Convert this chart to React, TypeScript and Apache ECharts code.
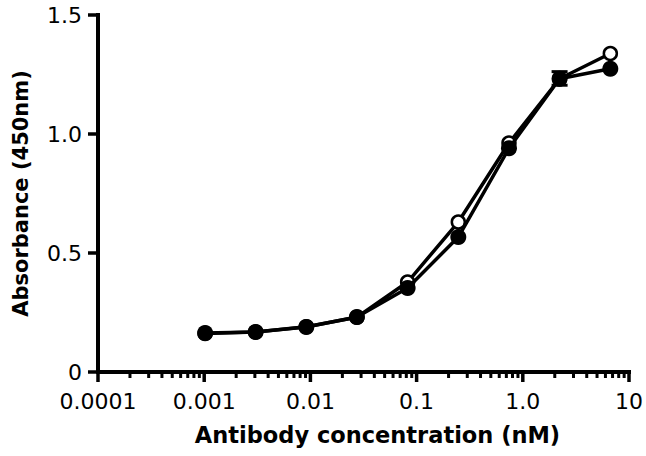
import React, { useEffect, useRef } from "react";
import * as echarts from "echarts";

const concentrations = [0.00102, 0.00305, 0.00915, 0.0274, 0.0823, 0.247, 0.741, 2.22, 6.67];
const openValues = [0.162, 0.168, 0.19, 0.23, 0.378, 0.63, 0.962, 1.232, 1.338];
const filledValues = [0.164, 0.168, 0.189, 0.231, 0.353, 0.567, 0.94, 1.232, 1.274];
// error bar: [x, low, high]
const errorBars = [[2.22, 1.205, 1.262]];
const xTickValues = [0.0001, 0.001, 0.01, 0.1, 1, 10];
const xTickLabels = ["0.0001", "0.001", "0.01", "0.1", "1.0", "10"];
const yTickValues = [0, 0.5, 1.0, 1.5];
const yTickLabels = ["0", "0.5", "1.0", "1.5"];
const minorMultipliers = [2, 3, 4, 5, 6, 7, 8, 9];
const X_MIN = 0.0001;
const X_MAX = 10;
const Y_MIN = 0;
const Y_MAX = 1.5;

const FONT = "'DejaVu Sans', sans-serif";

export default function App() {
  const ref = useRef<HTMLDivElement>(null);
  useEffect(() => {
    if (!ref.current) return;
    const chart = echarts.init(ref.current, undefined, { renderer: "svg" });
    const minorTicks: number[][] = [];
    xTickValues.slice(0, -1).forEach((d) => minorMultipliers.forEach((m) => minorTicks.push([d * m, 0])));

    const tickSeries = (data: number[][], dx: number, dy: number, lw: number) => ({
      type: "custom",
      clip: false,
      silent: true,
      data,
      renderItem: (params: any, api: any) => {
        const p = api.coord([api.value(0), api.value(1)]);
        return {
          type: "line",
          shape: { x1: p[0], y1: p[1], x2: p[0] + dx, y2: p[1] + dy },
          style: { stroke: "#000", lineWidth: lw },
        };
      },
      z: 1,
    });

    chart.setOption({
      animation: false,
      backgroundColor: "#fff",
      grid: { left: 98, right: 13, top: 15, bottom: 84 },
      xAxis: {
        type: "log",
        logBase: 10,
        min: X_MIN,
        max: X_MAX,
        name: "Antibody concentration (nM)",
        nameLocation: "middle",
        nameGap: 51,
        nameTextStyle: { fontFamily: FONT, fontSize: 22.5, fontWeight: "bold", color: "#000", padding: [0, 0, 0, 28] },
        axisLine: { show: false, onZero: false },
        axisTick: { show: false },
        axisLabel: {
          margin: 18,
          fontFamily: FONT,
          fontSize: 22,
          color: "#000",
          formatter: (v: number) => {
            const i = Math.round(Math.log10(v)) + 4;
            return xTickLabels[i] ?? "";
          },
        },
        splitLine: { show: false },
        minorTick: { show: false },
      },
      yAxis: {
        type: "value",
        min: Y_MIN,
        max: Y_MAX,
        interval: 0.5,
        name: "Absorbance (450nm)",
        nameLocation: "middle",
        nameGap: 67,
        nameTextStyle: { fontFamily: FONT, fontSize: 21, fontWeight: "bold", color: "#000" },
        axisLine: { show: false, onZero: false },
        axisTick: { show: false },
        axisLabel: {
          margin: 16,
          fontFamily: FONT,
          fontSize: 22,
          color: "#000",
          formatter: (v: number) => yTickLabels[Math.round(v / 0.5)] ?? "",
        },
        splitLine: { show: false },
      },
      series: [
        {
          // axis lines
          type: "line",
          clip: false,
          silent: true,
          symbol: "none",
          data: [
            [X_MIN, Y_MAX],
            [X_MIN, Y_MIN],
            [X_MAX, Y_MIN],
          ],
          lineStyle: { color: "#000", width: 4, cap: "square", join: "miter" },
          z: 1,
        },
        tickSeries(xTickValues.map((v) => [v, Y_MIN]), 0, 10, 3.5),
        tickSeries(yTickValues.map((v) => [X_MIN, v]), -10, 0, 3.5),
        tickSeries(minorTicks, 0, 6, 3),
        {
          type: "custom",
          clip: false,
          silent: true,
          data: errorBars,
          renderItem: (params: any, api: any) => {
            const lo = api.coord([api.value(0), api.value(1)]);
            const hi = api.coord([api.value(0), api.value(2)]);
            const w = 8;
            return {
              type: "group",
              children: [
                { type: "line", shape: { x1: lo[0], y1: lo[1], x2: hi[0], y2: hi[1] }, style: { stroke: "#000", lineWidth: 3 } },
                { type: "line", shape: { x1: hi[0] - w, y1: hi[1], x2: hi[0] + w, y2: hi[1] }, style: { stroke: "#000", lineWidth: 3 } },
                { type: "line", shape: { x1: lo[0] - w, y1: lo[1], x2: lo[0] + w, y2: lo[1] }, style: { stroke: "#000", lineWidth: 3 } },
              ],
            };
          },
          z: 1,
        },
        {
          type: "line",
          name: "open",
          data: concentrations.map((c, i) => [c, openValues[i]]),
          symbol: "circle",
          symbolSize: 13,
          lineStyle: { color: "#000", width: 3.5 },
          itemStyle: { color: "#fff", borderColor: "#000", borderWidth: 2.5 },
          z: 2,
        },
        {
          type: "line",
          name: "filled",
          data: concentrations.map((c, i) => [c, filledValues[i]]),
          symbol: "circle",
          symbolSize: 16,
          lineStyle: { color: "#000", width: 3.5 },
          itemStyle: { color: "#000" },
          z: 3,
        },
      ],
    });
    return () => chart.dispose();
  }, []);
  return <div ref={ref} style={{ position: "fixed", left: 0, top: 0, width: 646, height: 456 }} />;
}
